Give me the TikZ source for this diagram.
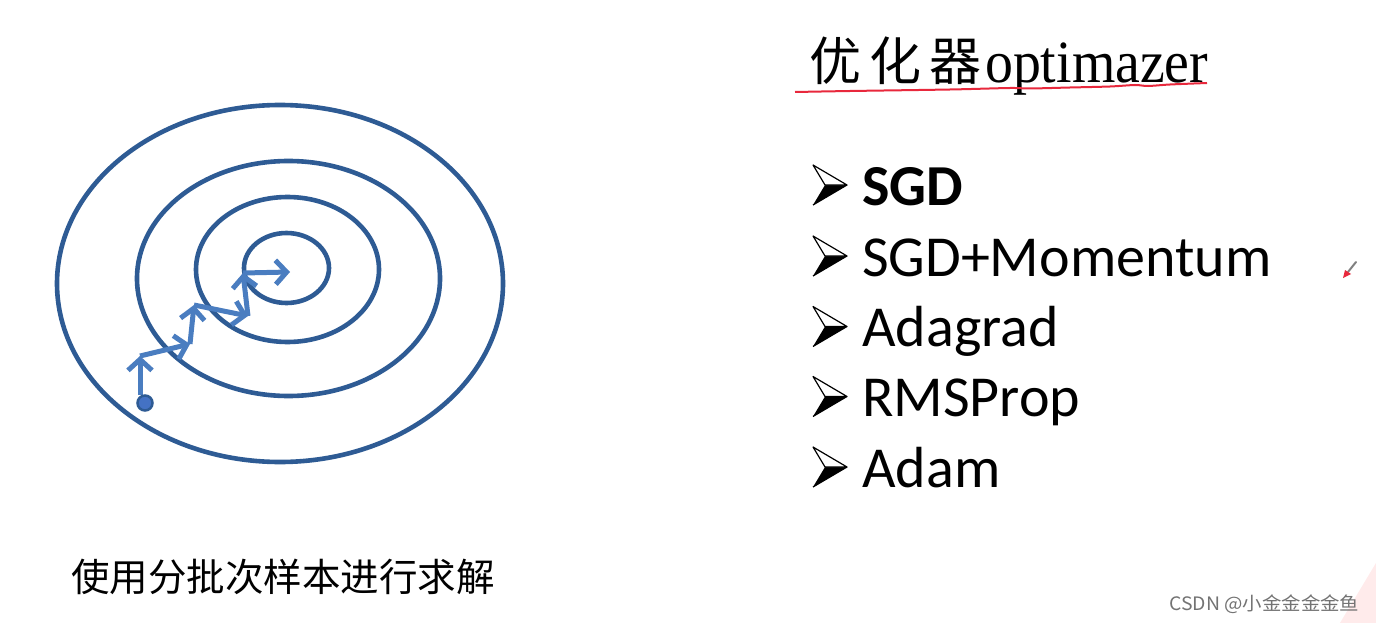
\documentclass[tikz,border=0pt]{standalone}
\usepackage{fontspec}
\setmainfont{Carlito}
\newfontfamily\cjk{Noto Sans CJK SC}
\newfontfamily\timesf{Liberation Serif}
\usetikzlibrary{arrows.meta}
\definecolor{ringblue}{HTML}{2E5B94}
\definecolor{pathblue}{HTML}{4A7DC0}
\definecolor{dotblue}{HTML}{4472C4}
\definecolor{pencolor}{HTML}{E8283C}
\tikzset{
  ring/.style={draw=ringblue, line width=4.6pt},
  hop/.style={draw=pathblue, line width=5pt, -{Straight Barb[length=11pt,width=24pt]}},
  itemtext/.style={anchor=base west, inner sep=0pt, font=\fontsize{58}{58}\selectfont},
  bul/.pic={
    \fill[black] (0,0) -- (12,-20) -- (34,-20) -- cycle;
    \filldraw[fill=white, draw=black, line width=1.2pt, line join=round] (0,-40) -- (34,-20) -- (12,-20) -- cycle;
    \draw[black, line width=1.2pt, line join=round] (0,0) -- (34,-20);
  }
}
\begin{document}
\begin{tikzpicture}[x=1pt,y=-1pt]
\useasboundingbox (0,0) rectangle (1376,623);
\fill[white] (0,0) rectangle (1376,623);
% faint corner
\fill[red!8] (1340,623) -- (1376,563) -- (1376,623) -- cycle;

% contour rings
\draw[ring] (280,283.5) ellipse [x radius=223, y radius=178.5];
\draw[ring] (288.5,278.5) ellipse [x radius=151.5, y radius=117.5];
\draw[ring] (287.5,269.5) ellipse [x radius=91.5, y radius=72.5];
\draw[ring] (286.5,268) ellipse [x radius=42.5, y radius=35];

% descent path
\coordinate (p0) at (140,395);
\coordinate (p1) at (140,356);
\coordinate (p2) at (190,344);
\coordinate (p3) at (194,305);
\coordinate (p4) at (248,316);
\coordinate (p5) at (243,273);
\coordinate (p6) at (290,272);
\draw[hop] (p0) -- (p1);
\draw[hop] (p1) -- (p2);
\draw[hop] (p2) -- (p3);
\draw[hop] (p3) -- (p4);
\draw[hop] (p4) -- (p5);
\draw[hop] (p5) -- (p6);
\filldraw[fill=dotblue, draw=ringblue, line width=2.5pt] (145,403) circle [radius=7.5];

% bottom caption
\node[anchor=west, inner sep=0pt, font=\cjk\fontsize{38.5}{38.5}\selectfont] (cap) at (71,577) {使用分批次样本进行求解};

% title
\node[anchor=base west, inner sep=0pt, font=\cjk\fontsize{52}{52}\selectfont] (tcn) at (809,81) {优\hspace{8pt}化\hspace{8pt}器};
\node[anchor=base west, inner sep=0pt, xscale=0.93, font=\timesf\fontsize{60}{60}\selectfont] (ten) at (985,83) {optimazer};
\draw[pencolor, line width=2pt] plot[smooth] coordinates {(795,92) (850,91) (950,89.5) (1010,88) (1030,88.5) (1070,87.5) (1110,86.5) (1135,85) (1148,86) (1170,84.5) (1207,83)};

% list
\pic at (813,205) {bul};
\pic at (813,276) {bul};
\pic at (813,346.5) {bul};
\pic at (813,416.5) {bul};
\pic at (813,487) {bul};
\node[itemtext] (i1) at (862,205) {\textbf{SGD}};
\node[itemtext] (i2) at (862,276) {SGD+Momentum};
\node[itemtext] (i3) at (862,346.5) {Adagrad};
\node[itemtext] (i4) at (862,416.5) {RMSProp};
\node[itemtext] (i5) at (862,487) {Adam};

% pen cursor
\draw[gray, line width=2pt, line cap=round] (1356,262) -- (1348,272);
\fill[pencolor] (1345,270) -- (1351,274) -- (1343,278) -- cycle;

% watermark
\node[anchor=west, inner sep=0pt, xscale=1.05, text=black!55, font=\cjk\fontsize{18.5}{18.5}\selectfont] (wm) at (1169,604) {CSDN @小金金金金鱼};
\end{tikzpicture}
\end{document}
